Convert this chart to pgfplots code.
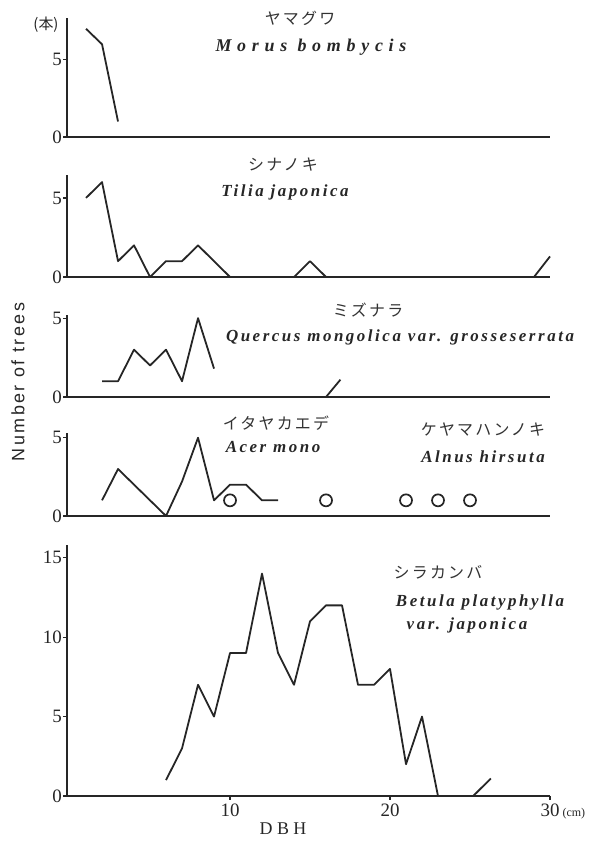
\documentclass[border=0pt]{standalone}
\usepackage{fontspec}
\usepackage{pgfplots}
\pgfplotsset{compat=1.18}
\setmainfont{Liberation Serif}
\newfontfamily\jp[LetterSpace=14]{Noto Sans CJK JP}
\newfontfamily\jpp{Noto Sans CJK JP}
\newfontfamily\lat[LetterSpace=15]{Liberation Serif}
\newfontfamily\latwide[LetterSpace=32]{Liberation Serif}
\newfontfamily\sanslab[LetterSpace=14]{Liberation Sans}
\newcommand\jpfont{\jp\fontsize{16}{17}\selectfont}
\newcommand\latfont{\lat\bfseries\itshape\fontsize{17}{18}\selectfont}
\pgfplotsset{
 panel/.style={
  scale only axis, width=483bp, xmin=-0.19, xmax=30, ymin=0,
  axis x line=bottom, axis y line=left,
  axis line style={-, line width=2.4bp, black!85},
  xtick=\empty,
  tick align=outside,
  major tick length=4bp,
  tick style={line width=1.2bp, black!85},
  /pgf/number format/assume math mode=true,
  ticklabel style={font=\fontsize{19}{20}\selectfont, text=black!85},
  yticklabel style={inner sep=1bp},
  clip=false,
 },
 dat/.style={black!85, line width=1.8bp, line join=round, no marks},
}
\begin{document}
\begin{tikzpicture}
\path[use as bounding box] (0,0) rectangle (599bp,844bp);
% Panel 1: Morus
\begin{axis}[panel, at={(67bp,707bp)}, anchor=south west, height=119bp, ymax=7.7, ytick={0,5}]
\addplot[dat] coordinates {(1,7) (2,6) (3,1)};
\end{axis}
% Panel 2: Tilia
\begin{axis}[panel, at={(67bp,567bp)}, anchor=south west, height=102bp, ymax=6.45, ytick={0,5}]
\addplot[dat] coordinates {(1,5) (2,6) (3,1) (4,2) (5,0) (6,1) (7,1) (8,2) (9,1) (10,0) (11,0) (12,0) (13,0) (14,0) (15,1) (16,0) (17,0) (18,0) (19,0) (20,0) (21,0) (22,0) (23,0) (24,0) (25,0) (26,0) (27,0) (28,0) (29,0) (30,1.3)};
\end{axis}
% Panel 3: Quercus
\begin{axis}[panel, at={(67bp,447bp)}, anchor=south west, height=82bp, ymax=5.2, ytick={0,5}]
\addplot[dat] coordinates {(2,1) (3,1) (4,3) (5,2) (6,3) (7,1) (8,5) (9,1.8)};
\addplot[dat] coordinates {(16,0) (16.9,1.1)};
\end{axis}
% Panel 4: Acer & Alnus
\begin{axis}[panel, at={(67bp,328bp)}, anchor=south west, height=83bp, ymax=5.3, ytick={0,5}]
\addplot[dat] coordinates {(2,1) (3,3) (4,2) (5,1) (6,0) (7,2.2) (8,5) (9,1) (10,2) (11,2) (12,1) (13,1)};
\addplot[only marks, mark=o, mark size=6bp, mark options={line width=1.7bp, black!85, fill=white}] coordinates {(10,1) (16,1) (21,1) (23,1) (25,1)};
\end{axis}
% Panel 5: Betula
\begin{axis}[panel, at={(67bp,48bp)}, anchor=south west, height=251bp, ymax=15.8, ytick={0,5,10,15},
  xtick={10,20,30}, xticklabels={10,20,{30\rlap{\,\fontsize{12}{12}\selectfont(cm)}}}]
\addplot[dat] coordinates {(6,1) (7,3) (8,7) (9,5) (10,9) (11,9) (12,14) (13,9) (14,7) (15,11) (16,12) (17,12) (18,7) (19,7) (20,8) (21,2) (22,5) (23,0) (24,0) (25.2,0) (26.3,1.1)};
\end{axis}
% texts
\node[font=\jpp\fontsize{15}{16}\selectfont, text=black!85] at (46bp,819bp) {(本)};
\node[font=\jpfont, text=black!80] at (300bp,826bp) {ヤマグワ};
\node[font=\latwide\bfseries\itshape\fontsize{18}{19}\selectfont, text=black!85] at (311bp,797bp) {Morus bombycis};
\node[font=\jpfont, text=black!80] at (283bp,679bp) {シナノキ};
\node[font=\latfont, text=black!85] at (285bp,652bp) {Tilia japonica};
\node[font=\jpfont, text=black!80] at (368bp,534bp) {ミズナラ};
\node[font=\latfont, text=black!85] at (400bp,507bp) {Quercus mongolica var. grosseserrata};
\node[font=\jpfont, text=black!80] at (276bp,421bp) {イタヤカエデ};
\node[font=\latfont, text=black!85] at (273bp,397bp) {Acer mono};
\node[font=\jpfont, text=black!80] at (483bp,414bp) {ケヤマハンノキ};
\node[font=\latfont, text=black!85] at (483bp,387bp) {Alnus hirsuta};
\node[font=\jpfont, text=black!80] at (438bp,272bp) {シラカンバ};
\node[font=\latfont, text=black!85] at (480bp,242bp) {Betula platyphylla};
\node[font=\latfont, text=black!85] at (467bp,219bp) {var. japonica};
\node[font=\sanslab\fontsize{18}{19}\selectfont, text=black!85, rotate=90] at (18bp,462bp) {Number of trees};
\node[font=\fontsize{18}{19}\selectfont, text=black!85] at (283bp,15bp) {D B H};
\end{tikzpicture}
\end{document}
